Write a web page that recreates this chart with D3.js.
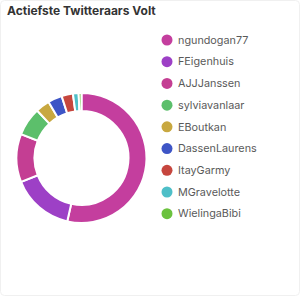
<!DOCTYPE html>
<html><head><meta charset="utf-8">
<script src="https://cdn.jsdelivr.net/npm/d3@7"></script>
<style>
html,body{margin:0;padding:0;background:#fff;}
svg{display:block;}
</style></head>
<body>
<svg id="chart" width="300" height="296"></svg>
<script>
const title = "Actiefste Twitteraars Volt";
const names = ["ngundogan77","FEigenhuis","AJJJanssen","sylviavanlaar","EBoutkan","DassenLaurens","ItayGarmy","MGravelotte","WielingaBibi"];
const values = [76,22,17,10,5,5,4,2,1];
const colors = ["#c43e9e","#9d40c6","#c43e93","#5cbf6b","#c8a840","#3e55c6","#c6463e","#4ebfc8","#6bc23e"];

const svg = d3.select("#chart");
svg.append("rect").attr("x",0.5).attr("y",0.5).attr("width",299).attr("height",295)
  .attr("rx",4).attr("fill","#fff").attr("stroke","#f0f0f0");

svg.append("text").attr("x",7).attr("y",15).text(title)
  .attr("font-family","Inter, 'Open Sans', sans-serif").attr("font-weight",700)
  .attr("font-size",12).attr("fill","#333");

const data = names.map((n,i)=>({name:n,value:values[i]}));
const color = d3.scaleOrdinal().domain(names).range(colors);
const pie = d3.pie().value(d=>d.value).sort(null);
const arc = d3.arc().innerRadius(47).outerRadius(65);

const g = svg.append("g").attr("transform","translate(81.5,158)");
g.selectAll("path").data(pie(data)).join("path")
  .attr("d",arc).attr("fill",d=>color(d.data.name))
  .attr("stroke","#fff").attr("stroke-width",2);

const leg = svg.append("g");
const y = d3.scalePoint().domain(names).range([40,213.7]);
const rows = leg.selectAll("g").data(names).join("g")
  .attr("transform",d=>`translate(167,${y(d)})`);
rows.append("circle").attr("r",5.5).attr("fill",d=>color(d));
rows.append("text").attr("x",11).attr("dy","0.35em").text(d=>d)
  .attr("font-family","Inter, 'Open Sans', sans-serif").attr("font-size",10.8).attr("fill","#5a5a5a");
</script>
</body></html>
